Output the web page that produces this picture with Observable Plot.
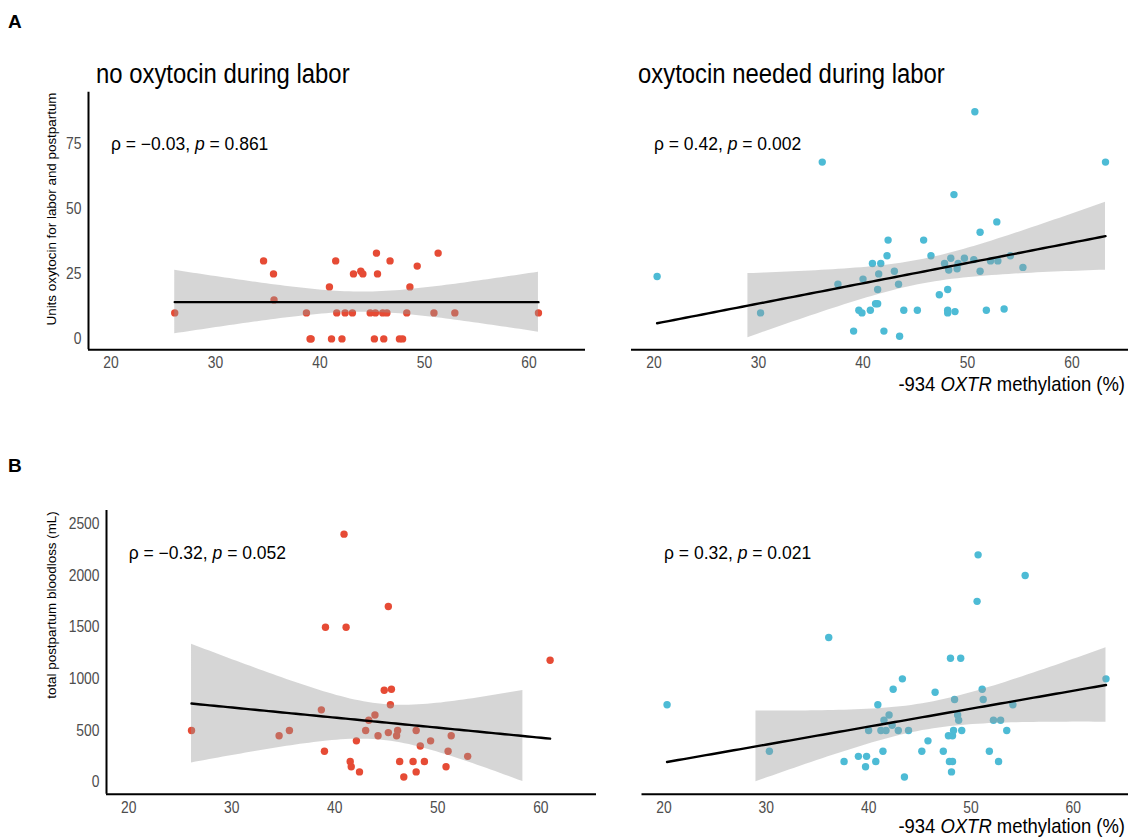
<!DOCTYPE html>
<html>
<head>
<meta charset="utf-8">
<script src="https://cdn.jsdelivr.net/npm/d3@7"></script>
<script src="https://cdn.jsdelivr.net/npm/@observablehq/plot@0.6"></script>
<style>
  html, body { margin: 0; padding: 0; background: #ffffff; }
  #fig { position: relative; width: 1129px; height: 839px; overflow: hidden; background: #ffffff; }
  #fig > svg { position: absolute; }
  .overlay { left: 0; top: 0; pointer-events: none; }
</style>
</head>
<body>
<div id="fig"></div>
<script>
// ---------------- data ----------------
const xTicks = [20, 30, 40, 50, 60];
const yTicksA = [0, 25, 50, 75];
const yTicksB = [0, 500, 1000, 1500, 2000, 2500];

const groupTitles = ["no oxytocin during labor", "oxytocin needed during labor"];
const panelTags = ["A", "B"];
const yTitles = ["Units oxytocin for labor and postpartum", "total postpartum bloodloss (mL)"];
const xTitleParts = ["-934 ", "OXTR", " methylation (%)"];

// correlation annotations: rho, p (A-left, A-right, B-left, B-right)
const annoRho = ["\u22120.03", "0.42", "\u22120.32", "0.32"];
const annoP = ["0.861", "0.002", "0.052", "0.021"];

// Panel A-left: no oxytocin during labor
const aNoX = [26.1, 34.6, 35.55, 35.6, 38.7, 39.05, 39.15, 40.9, 41.1, 41.5, 41.6, 42.1, 42.4, 43.1, 43.2, 43.9, 44.1, 44.8, 45.2, 45.3, 45.4, 45.5, 46.0, 46.1, 46.4, 46.7, 47.6, 47.9, 48.3, 48.6, 49.3, 50.9, 51.3, 52.9, 60.9];
const aNoY = [10, 30, 25, 15, 10, 0, 0, 20, 0, 30, 10, 0, 10, 10, 25, 26, 25, 10, 0, 10, 33, 25, 10, 0, 10, 30, 0, 0, 10, 20, 28, 10, 33, 10, 10];

// Panel A-right: oxytocin needed during labor
const aYesX = [20.3, 30.2, 36.1, 37.6, 39.1, 39.6, 39.9, 40.0, 40.7, 40.9, 41.2, 41.4, 41.4, 41.5, 41.7, 42.0, 42.3, 42.4, 43.0, 43.4, 43.5, 43.9, 45.2, 45.8, 46.5, 47.3, 47.8, 48.1, 48.1, 48.1, 48.2, 48.4, 48.7, 48.8, 49.0, 49.1, 49.7, 50.6, 50.7, 51.2, 51.2, 51.8, 52.2, 52.8, 52.9, 53.5, 54.1, 55.3, 63.2];
const aYesY = [24, 10, 68, 21, 3, 11, 10, 23, 11, 29, 13.5, 13.5, 19, 25, 29, 3, 32, 38, 26, 21, 1, 11, 11, 38, 32, 17, 29, 10, 11, 19, 26.5, 31, 55.5, 10.5, 27, 29, 31, 30.5, 87.4, 41, 26, 11, 30, 45, 30, 11.5, 32, 27.5, 68];

// Panel B-left: bloodloss, no oxytocin
const bNoX = [26.1, 34.6, 35.6, 38.7, 39.0, 39.1, 40.9, 41.1, 41.5, 41.6, 42.1, 42.4, 43.0, 43.3, 43.9, 44.2, 44.8, 45.2, 45.2, 45.4, 45.5, 46.0, 46.1, 46.3, 46.7, 47.6, 47.9, 47.9, 48.3, 48.7, 49.3, 50.8, 51.0, 51.3, 52.9, 60.9];
const bNoY = [500, 450, 500, 700, 300, 1500, 2400, 1500, 200, 150, 400, 100, 500, 600, 650, 450, 890, 1700, 480, 750, 900, 450, 500, 200, 50, 200, 500, 100, 350, 200, 400, 150, 300, 450, 250, 1180];

// Panel B-right: bloodloss, oxytocin needed
const bYesX = [20.3, 30.3, 36.1, 37.6, 39.0, 39.7, 39.8, 40.0, 40.7, 40.9, 41.2, 41.4, 41.5, 41.7, 42.0, 42.3, 42.4, 42.9, 43.3, 43.5, 43.9, 45.2, 45.8, 46.5, 47.3, 47.8, 47.9, 48.0, 48.1, 48.2, 48.2, 48.3, 48.4, 48.7, 48.8, 49.0, 49.1, 50.6, 50.7, 51.1, 51.2, 51.8, 52.2, 52.7, 52.9, 53.5, 54.1, 55.3, 63.2];
const bYesY = [750, 300, 1400, 200, 250, 150, 250, 500, 200, 750, 500, 300, 600, 500, 650, 550, 900, 500, 1000, 50, 500, 300, 400, 870, 300, 450, 200, 1200, 100, 200, 450, 500, 800, 650, 600, 1200, 500, 1750, 2200, 900, 800, 300, 600, 200, 600, 500, 750, 2000, 1000];

// ---------------- styling ----------------
const FONT = "'Liberation Sans', Arial, Helvetica, sans-serif";
const RED = "#E64B35";
const BLUE = "#4DBBD5";
const xDomain = [17.85, 65.4];
const yDomainA = [-4.2, 94.9];
const yDomainB = [-116, 2629];
const labelX = 20;
const labelYA = 75;
const labelYB = 2210;

// horizontal condensing of tick labels (the reference uses a condensed look)
function squeeze(el, f) {
  const len = el.getComputedTextLength();
  if (len > 0) {
    el.setAttribute("textLength", (len * f).toFixed(2));
    el.setAttribute("lengthAdjust", "spacingAndGlyphs");
  }
}

// ---------------- linear model with 95% CI (like geom_smooth(method = "lm")) ----------------
function tQuantile975(df) {
  const z = 1.959963985;
  const z3 = z ** 3, z5 = z ** 5, z7 = z ** 7;
  return z + (z3 + z) / (4 * df) + (5 * z5 + 16 * z3 + 3 * z) / (96 * df * df)
    + (3 * z7 + 19 * z5 + 17 * z3 - 15 * z) / (384 * df ** 3);
}
function lmFit(xs, ys, lower) {
  const n = xs.length;
  const mx = d3.mean(xs), my = d3.mean(ys);
  let sxx = 0, sxy = 0;
  for (let i = 0; i < n; i++) { sxx += (xs[i] - mx) ** 2; sxy += (xs[i] - mx) * (ys[i] - my); }
  const b = sxy / sxx, a = my - b * mx;
  let sse = 0;
  for (let i = 0; i < n; i++) sse += (ys[i] - a - b * xs[i]) ** 2;
  const s = Math.sqrt(sse / (n - 2));
  const t = tQuantile975(n - 2);
  const [x0, x1] = d3.extent(xs);
  const grid = d3.range(80).map(i => x0 + (x1 - x0) * i / 79);
  const rows = grid.map(x => {
    const fit = a + b * x;
    const se = s * Math.sqrt(1 / n + (x - mx) ** 2 / sxx);
    return { x, fit, lo: fit - t * se, hi: fit + t * se };
  });
  // ribbon rows falling outside the scale limit (0) are dropped, as in ggplot
  const band = rows.filter(r => r.lo >= lower);
  return { line: rows, band };
}

const fig = document.getElementById("fig");

function panel(opts) {
  const { xs, ys, color, yDomain, yTicks, showY, width, height, mL, mR, mT, mB, labelY, idx } = opts;
  const pts = xs.map((v, i) => ({ x: v, y: ys[i] }));
  const { line, band } = lmFit(xs, ys, 0);
  const svg = Plot.plot({
    width, height,
    marginLeft: mL, marginRight: mR, marginTop: mT, marginBottom: mB,
    style: { fontFamily: FONT, fontSize: "16.5px", color: "#4D4D4D", background: "transparent", overflow: "visible" },
    x: { domain: xDomain, ticks: xTicks, tickSize: 0, tickPadding: opts.xPad, label: null, tickFormat: d => String(d) },
    y: { domain: yDomain, ticks: yTicks, tickSize: 0, tickPadding: 7, label: null, axis: showY ? "left" : null, tickFormat: d => String(d) },
    marks: [
      Plot.ruleY([yDomain[0]], { stroke: "black", strokeWidth: 2 }),
      showY ? Plot.ruleX([xDomain[0]], { stroke: "black", strokeWidth: 2 }) : null,
      Plot.dot(pts, { x: "x", y: "y", r: 3.7, fill: color, stroke: "none" }),
      Plot.areaY(band, { x: "x", y1: "lo", y2: "hi", fill: "#999999", fillOpacity: 0.4 }),
      Plot.line(line, { x: "x", y: "fit", stroke: "black", strokeWidth: 2.4 }),
      Plot.text([`\u03C1 = ${annoRho[idx]}, p = ${annoP[idx]}`], {
        x: labelX, y: labelY, text: d => d, textAnchor: "start",
        fontSize: 17.5, fill: "black", fontFamily: FONT
      })
    ]
  });
  // italicise the "p" in the annotation
  svg.querySelectorAll("text").forEach(t => {
    if (t.textContent.startsWith("\u03C1")) {
      const ns = "http://www.w3.org/2000/svg";
      t.textContent = "";
      t.appendChild(document.createTextNode(`\u03C1 = ${annoRho[idx]}, `));
      const it = document.createElementNS(ns, "tspan");
      it.setAttribute("font-style", "italic");
      it.textContent = "p";
      t.appendChild(it);
      t.appendChild(document.createTextNode(` = ${annoP[idx]}`));
    }
  });
  svg.style.left = opts.left + "px";
  svg.style.top = opts.top + "px";
  fig.appendChild(svg);
  svg.querySelectorAll('g[aria-label$="tick label"] text').forEach(t => squeeze(t, 0.84));
  return svg;
}

panel({ xs: aNoX, ys: aNoY, color: RED, yDomain: yDomainA, yTicks: yTicksA, showY: true,
  left: 0, top: 80, width: 590, height: 300, mL: 88, mR: 5, mT: 11.7, mB: 30.7, xPad: 6, labelY: labelYA, idx: 0 });
panel({ xs: aYesX, ys: aYesY, color: BLUE, yDomain: yDomainA, yTicks: yTicksA, showY: false,
  left: 600, top: 80, width: 529, height: 300, mL: 31, mR: 1, mT: 11.7, mB: 30.7, xPad: 6, labelY: labelYA, idx: 1 });
panel({ xs: bNoX, ys: bNoY, color: RED, yDomain: yDomainB, yTicks: yTicksB, showY: true,
  left: 0, top: 500, width: 600, height: 339, mL: 106, mR: 4, mT: 10, mB: 45.3, xPad: 7, labelY: labelYB, idx: 2 });
panel({ xs: bYesX, ys: bYesY, color: BLUE, yDomain: yDomainB, yTicks: yTicksB, showY: false,
  left: 600, top: 500, width: 529, height: 339, mL: 41.5, mR: 1, mT: 10, mB: 45.3, xPad: 7, labelY: labelYB, idx: 3 });

// ---------------- overlay text: tags, titles, axis titles ----------------
const ns = "http://www.w3.org/2000/svg";
const ov = document.createElementNS(ns, "svg");
ov.setAttribute("class", "overlay");
ov.setAttribute("width", 1129);
ov.setAttribute("height", 839);
ov.setAttribute("font-family", FONT);
fig.appendChild(ov);
function addText(str, x, y, attrs, sq) {
  const t = document.createElementNS(ns, "text");
  if (sq) {
    t.setAttribute("x", 0); t.setAttribute("y", 0);
    t.setAttribute("transform", `translate(${x},${y}) scale(${sq},1)`);
  } else {
    t.setAttribute("x", x); t.setAttribute("y", y);
  }
  for (const k in attrs) t.setAttribute(k, attrs[k]);
  if (Array.isArray(str)) {
    str.forEach((s, i) => {
      const sp = document.createElementNS(ns, "tspan");
      sp.textContent = s;
      if (i === 1) sp.setAttribute("font-style", "italic");
      t.appendChild(sp);
    });
  } else t.textContent = str;
  ov.appendChild(t);
  return t;
}
addText(panelTags[0], 8, 28, { "font-size": 19, "font-weight": "bold", fill: "black" });
addText(panelTags[1], 8, 472, { "font-size": 19, "font-weight": "bold", fill: "black" });
addText(groupTitles[0], 96, 83, { "font-size": 27, fill: "black" }, 0.885);
addText(groupTitles[1], 638, 83, { "font-size": 27, fill: "black" }, 0.885);
addText(xTitleParts, 1125, 391, { "font-size": 20.5, fill: "black", "text-anchor": "end" }, 0.9);
addText(xTitleParts, 1125, 833, { "font-size": 20.5, fill: "black", "text-anchor": "end" }, 0.9);
addText(yTitles[0], 0, 0, { "font-size": 13.4, fill: "black", "text-anchor": "middle", transform: "translate(56,209) rotate(-90)" });
addText(yTitles[1], 0, 0, { "font-size": 13.4, fill: "black", "text-anchor": "middle", transform: "translate(56,605) rotate(-90)" });
</script>
</body>
</html>
